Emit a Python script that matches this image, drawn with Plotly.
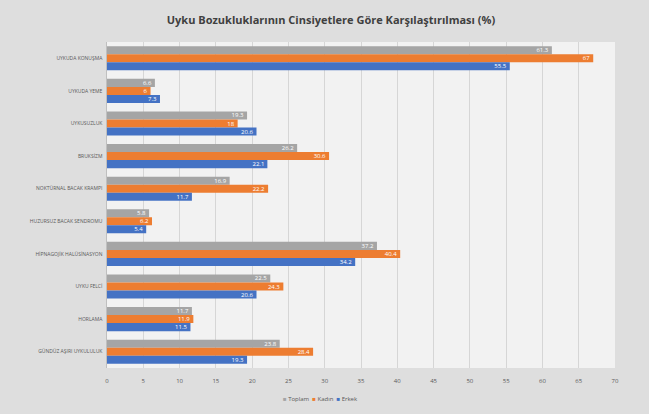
import plotly.graph_objects as go

categories = [
    "UYKUDA KONUŞMA",
    "UYKUDA YEME",
    "UYKUSUZLUK",
    "BRUKSİZM",
    "NOKTÜRNAL BACAK KRAMPI",
    "HUZURSUZ BACAK SENDROMU",
    "HİPNAGOJİK HALÜSİNASYON",
    "UYKU FELCİ",
    "HORLAMA",
    "GÜNDÜZ AŞIRI UYKULULUK",
]
toplam = [61.3, 6.6, 19.3, 26.2, 16.9, 5.8, 37.2, 22.5, 11.7, 23.8]
kadin = [67, 6, 18.0, 30.6, 22.2, 6.2, 40.4, 24.3, 11.9, 28.4]
erkek = [55.5, 7.3, 20.6, 22.1, 11.7, 5.4, 34.2, 20.6, 11.5, 19.3]

series = [("Toplam", toplam, "#a5a5a5"), ("Kadın", kadin, "#ed7d31"), ("Erkek", erkek, "#4472c4")]

fig = go.Figure()
for name, vals, col in series:
    fig.add_trace(go.Bar(
        name=name, y=categories, x=vals, orientation="h",
        marker=dict(color=col, line=dict(width=0)),
        text=[f"{v:g}" for v in vals], textposition="inside", insidetextanchor="end",
        textfont=dict(size=6, color="white", family="Open Sans"),
        textangle=0, cliponaxis=False, showlegend=False,
    ))

legend_text = "  ".join(
    f"<span style='color:{col}'>■</span> {name}" for name, _, col in series
)

fig.update_layout(
    width=649, height=414,
    margin=dict(l=107, r=34, t=42, b=46, autoexpand=False),
    paper_bgcolor="#dedede", plot_bgcolor="#f2f2f2",
    barmode="group", bargap=0.26, bargroupgap=0.0,
    uniformtext=dict(minsize=5, mode="show"),
    title=dict(text="<b>Uyku Bozukluklarının Cinsiyetlere Göre Karşılaştırılması (%)</b>",
               x=0.51, xanchor="center", y=0.952, yanchor="middle",
               font=dict(size=11, color="#404040", family="Open Sans")),
    font=dict(family="Open Sans", color="#595959"),
    annotations=[dict(text=legend_text, xref="paper", yref="paper", x=0.42, y=-0.095,
                      xanchor="center", yanchor="middle", showarrow=False,
                      font=dict(size=6, color="#595959"))],
)
fig.update_xaxes(range=[0, 70], dtick=5, tick0=0, showgrid=True, gridcolor="#d6d6d6", gridwidth=1,
                 zeroline=False, tickfont=dict(size=6, color="#595959"), ticks="", showline=False,
                 ticklabelstandoff=8)
fig.update_yaxes(autorange="reversed", tickfont=dict(size=5, color="#595959"), ticks="",
                 showline=True, linecolor="#bfbfbf", ticksuffix="  ")

fig.write_html("out.html")
